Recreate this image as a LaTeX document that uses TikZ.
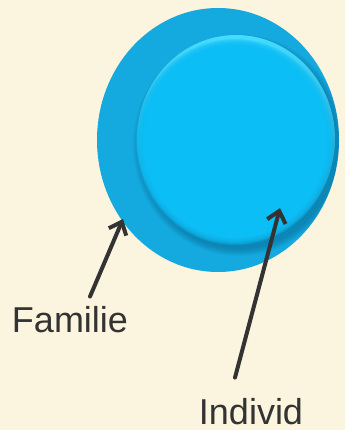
\documentclass[tikz,border=0pt]{standalone}
\usepackage{fontspec}
\setmainfont{Liberation Sans}
\usetikzlibrary{arrows.meta}

\definecolor{bgcream}{HTML}{FBF4DE}
\definecolor{outerblue}{HTML}{14AAE0}
\definecolor{innerblue}{HTML}{0CBEF6}
\definecolor{rimlight}{HTML}{45DCFF}
\definecolor{rimdark}{HTML}{0A5F86}
\definecolor{labelgray}{HTML}{333333}

\tikzset{
  pointer/.style={draw=labelgray, line width=4pt, line cap=round,
    -{Straight Barb[length=11pt, width=19pt, line width=4pt]}},
  caption/.style={text=labelgray, inner sep=0pt,
    font=\fontsize{36}{40}\selectfont}
}

\begin{document}
\begin{tikzpicture}[x=1pt, y=-1pt]
  % Background
  \fill[bgcream] (0,0) rectangle (345,430);
  \useasboundingbox (0,0) rectangle (345,430);

  % Outer disc (family)
  \fill[outerblue] (218,140) ellipse [x radius=121, y radius=132];

  % Soft shadow under the button, kept inside the outer disc
  \begin{scope}
    \clip (218,140) ellipse [x radius=121, y radius=132];
    \foreach \k in {0,...,7}
      \fill[rimdark, opacity=0.07] (239,145) ellipse [x radius=99+\k, y radius=104+\k];
  \end{scope}

  % Button (individual)
  \shade[top color=rimlight, bottom color=rimdark!60!innerblue]
    (236,139) ellipse [x radius=99, y radius=104];
  \foreach \k in {6,...,0}
    \fill[innerblue, opacity=0.3] (235,142) ellipse [x radius=93+\k, y radius=97+\k];
  \fill[innerblue] (235,142) ellipse [x radius=92, y radius=96];

  % Labels
  \node[caption] (familie) at (70,320) {Familie};
  \node[caption] (individ) at (251,412) {Individ};

  % Arrow tips on the discs
  \coordinate (famtip) at (123,219);
  \coordinate (indtip) at (280,208);

  % Arrows
  \draw[pointer] ([xshift=20pt, yshift=10pt]familie.north) -- (famtip);
  \draw[pointer] ([xshift=-16pt, yshift=21pt]individ.north) -- (indtip);
\end{tikzpicture}
\end{document}
